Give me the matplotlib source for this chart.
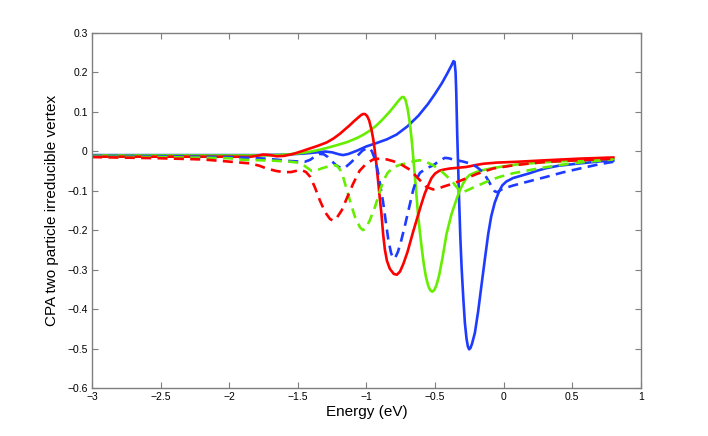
import matplotlib
matplotlib.use("Agg")
import matplotlib.pyplot as plt

# ---- data ----
bs_x = [-3, -2.5, -2.0, -1.8, -1.6, -1.45, -1.36, -1.30, -1.25, -1.20, -1.17, -1.13, -1.07, -1.0, -0.93,
        -0.85, -0.78, -0.70, -0.62, -0.55, -0.50, -0.45, -0.41, -0.38, -0.365, -0.357, -0.350, -0.345,
        -0.338, -0.331, -0.324, -0.315, -0.306, -0.294, -0.282, -0.27, -0.26, -0.251, -0.242, -0.23,
        -0.209, -0.185, -0.16, -0.135, -0.112, -0.09, -0.064, -0.035, -0.01, 0.02, 0.07, 0.13, 0.19,
        0.25, 0.313, 0.4, 0.556, 0.7, 0.8]
bs_y = [-0.010, -0.010, -0.010, -0.010, -0.009, -0.006, -0.003, -0.001, -0.003, -0.008, -0.010, -0.007,
        0.001, 0.012, 0.020, 0.030, 0.042, 0.063, 0.090, 0.120, 0.145, 0.172, 0.197, 0.217, 0.228, 0.226,
        0.200, 0.150, 0.045, -0.040, -0.125, -0.220, -0.294, -0.370, -0.435, -0.475, -0.495, -0.502,
        -0.499, -0.488, -0.460, -0.405, -0.337, -0.270, -0.210, -0.165, -0.130, -0.104, -0.087, -0.077,
        -0.068, -0.062, -0.056, -0.049, -0.043, -0.037, -0.031, -0.026, -0.024]

gs_x = [-3, -2.5, -2.0, -1.8, -1.65, -1.56, -1.48, -1.42, -1.36, -1.29, -1.217, -1.14, -1.07, -1.02,
        -0.975, -0.93, -0.88, -0.83, -0.79, -0.76, -0.74, -0.728, -0.715, -0.70, -0.683, -0.67, -0.655,
        -0.64, -0.625, -0.61, -0.595, -0.58, -0.565, -0.55, -0.535, -0.52, -0.505, -0.49, -0.47, -0.445,
        -0.416, -0.38, -0.343, -0.32, -0.295, -0.27, -0.246, -0.2, -0.149, -0.08, -0.027, 0.094, 0.19,
        0.35, 0.556, 0.8]
gs_y = [-0.011, -0.011, -0.011, -0.011, -0.010, -0.008, -0.005, -0.002, 0.002, 0.008, 0.015, 0.023,
        0.033, 0.042, 0.052, 0.064, 0.081, 0.100, 0.117, 0.130, 0.137, 0.137, 0.130, 0.108, 0.070, 0.030,
        -0.030, -0.090, -0.155, -0.205, -0.250, -0.290, -0.320, -0.340, -0.352, -0.356, -0.352, -0.340,
        -0.315, -0.270, -0.210, -0.160, -0.122, -0.100, -0.082, -0.068, -0.060, -0.053, -0.048, -0.043,
        -0.040, -0.034, -0.031, -0.027, -0.023, -0.019]

rs_x = [-3, -2.5, -2.0, -1.85, -1.80, -1.752, -1.70, -1.655, -1.60, -1.533, -1.47, -1.41, -1.35, -1.29,
        -1.24, -1.193, -1.15, -1.12, -1.09, -1.06, -1.04, -1.025, -1.01, -0.995, -0.98, -0.962, -0.95,
        -0.938, -0.925, -0.914, -0.902, -0.89, -0.878, -0.865, -0.85, -0.829, -0.80, -0.778, -0.755,
        -0.73, -0.70, -0.66, -0.63, -0.60, -0.575, -0.55, -0.525, -0.50, -0.47, -0.44, -0.392, -0.33,
        -0.27, -0.20, -0.149, -0.05, 0.094, 0.313, 0.55, 0.8]
rs_y = [-0.014, -0.014, -0.014, -0.0145, -0.012, -0.0085, -0.010, -0.013, -0.012, -0.007, 0.000, 0.007,
        0.014, 0.022, 0.032, 0.044, 0.057, 0.066, 0.076, 0.085, 0.091, 0.094, 0.094, 0.089, 0.078, 0.053,
        0.030, 0.000, -0.040, -0.078, -0.120, -0.160, -0.210, -0.250, -0.278, -0.298, -0.311, -0.313,
        -0.305, -0.285, -0.255, -0.205, -0.170, -0.135, -0.108, -0.087, -0.068, -0.057, -0.050, -0.047,
        -0.044, -0.042, -0.040, -0.035, -0.032, -0.029, -0.027, -0.023, -0.019, -0.016]

rd_x = [-3, -2.5, -2.2, -2.05, -1.95, -1.85, -1.78, -1.727, -1.66, -1.606, -1.55, -1.50, -1.472, -1.44,
        -1.41, -1.375, -1.339, -1.30, -1.265, -1.242, -1.22, -1.18, -1.14, -1.096, -1.05, -0.999, -0.95,
        -0.902, -0.85, -0.80, -0.75, -0.683, -0.62, -0.561, -0.513, -0.47, -0.44, -0.367, -0.28, -0.197,
        -0.12, -0.076, 0.07, 0.2, 0.313, 0.55, 0.8]
rd_y = [-0.015, -0.018, -0.021, -0.025, -0.028, -0.031, -0.037, -0.044, -0.050, -0.053, -0.053, -0.049,
        -0.048, -0.053, -0.065, -0.092, -0.125, -0.155, -0.172, -0.176, -0.171, -0.150, -0.117, -0.082,
        -0.050, -0.031, -0.021, -0.019, -0.021, -0.026, -0.033, -0.047, -0.070, -0.091, -0.097, -0.094,
        -0.090, -0.082, -0.070, -0.058, -0.049, -0.044, -0.036, -0.031, -0.027, -0.023, -0.019]

gd_x = [-3, -2.5, -2.0, -1.9, -1.68, -1.55, -1.48, -1.44, -1.40, -1.37, -1.33, -1.29, -1.245, -1.217,
        -1.19, -1.17, -1.145, -1.12, -1.085, -1.047, -1.025, -1.005, -0.975, -0.938, -0.905, -0.878,
        -0.845, -0.805, -0.75, -0.707, -0.65, -0.61, -0.56, -0.513, -0.47, -0.44, -0.40, -0.367, -0.34,
        -0.32, -0.295, -0.27, -0.22, -0.173, -0.1, -0.027, 0.07, 0.19, 0.3, 0.434, 0.6, 0.8]
gd_y = [-0.014, -0.015, -0.018, -0.022, -0.024, -0.027, -0.030, -0.040, -0.050, -0.050, -0.044, -0.040,
        -0.036, -0.036, -0.048, -0.065, -0.095, -0.125, -0.165, -0.193, -0.200, -0.196, -0.175, -0.142,
        -0.105, -0.076, -0.055, -0.041, -0.034, -0.031, -0.025, -0.023, -0.028, -0.036, -0.046, -0.055,
        -0.068, -0.080, -0.092, -0.101, -0.104, -0.100, -0.092, -0.085, -0.074, -0.065, -0.056, -0.048,
        -0.041, -0.034, -0.027, -0.021]

bd_x = [-3, -2.5, -2.0, -1.73, -1.557, -1.45, -1.41, -1.37, -1.34, -1.31, -1.28, -1.25, -1.22, -1.18,
        -1.15, -1.12, -1.096, -1.06, -1.03, -1.0, -0.98, -0.96, -0.94, -0.92, -0.90, -0.88, -0.86, -0.84,
        -0.82, -0.805, -0.79, -0.77, -0.745, -0.72, -0.69, -0.66, -0.635, -0.61, -0.56, -0.513, -0.47,
        -0.428, -0.40, -0.37, -0.343, -0.30, -0.246, -0.20, -0.149, -0.11, -0.08, -0.064, -0.045, -0.02,
        -0.003, 0.07, 0.19, 0.313, 0.43, 0.556, 0.7, 0.8]
bd_y = [-0.012, -0.013, -0.015, -0.019, -0.025, -0.027, -0.022, -0.012, -0.007, -0.008, -0.015, -0.026,
        -0.036, -0.044, -0.040, -0.031, -0.023, -0.010, 0.001, 0.007, 0.008, 0.000, -0.018, -0.045,
        -0.085, -0.125, -0.175, -0.225, -0.258, -0.272, -0.270, -0.255, -0.225, -0.190, -0.145, -0.100,
        -0.072, -0.055, -0.043, -0.036, -0.025, -0.017, -0.018, -0.021, -0.023, -0.026, -0.031, -0.039,
        -0.053, -0.075, -0.094, -0.102, -0.104, -0.098, -0.095, -0.087, -0.076, -0.065, -0.054, -0.044,
        -0.033, -0.027]

x_ticks = [-3, -2.5, -2, -1.5, -1, -0.5, 0, 0.5, 1]
x_labels = ["\u22123", "\u22122.5", "\u22122", "\u22121.5", "\u22121", "\u22120.5", "0", "0.5", "1"]
y_ticks = [-0.6, -0.5, -0.4, -0.3, -0.2, -0.1, 0, 0.1, 0.2, 0.3]
y_labels = ["\u22120.6", "\u22120.5", "\u22120.4", "\u22120.3", "\u22120.2", "\u22120.1", "0", "0.1", "0.2", "0.3"]

BLUE = "#1e3cff"
GREEN = "#66ee00"
RED = "#ff0000"

plt.rcParams['font.family'] = ['Liberation Sans', 'DejaVu Sans']

fig = plt.figure(figsize=(7.08, 4.36), dpi=100)
ax = fig.add_axes([0.13, 0.11, 0.775, 0.815])

lw = 1.9
dash = (0, (3.8, 2.4))
ax.plot(bs_x, bs_y, color=BLUE, lw=lw, solid_joinstyle='round')
ax.plot(gs_x, gs_y, color=GREEN, lw=lw, solid_joinstyle='round')
ax.plot(rs_x, rs_y, color=RED, lw=lw, solid_joinstyle='round')
ax.plot(bd_x, bd_y, color=BLUE, lw=lw, linestyle=dash)
ax.plot(gd_x, gd_y, color=GREEN, lw=lw, linestyle=dash)
ax.plot(rd_x, rd_y, color=RED, lw=lw, linestyle=dash)

ax.set_xlim(-3, 1)
ax.set_ylim(-0.6, 0.3)
ax.set_xticks(x_ticks)
ax.set_xticklabels(x_labels)
ax.set_yticks(y_ticks)
ax.set_yticklabels(y_labels)
ax.tick_params(direction='in', length=4, width=0.8, top=True, right=True,
               labelsize=7.5, colors='#7f7f7f', labelcolor='black', pad=3)
for s in ax.spines.values():
    s.set_color('#7f7f7f')
    s.set_linewidth(1.0)

ax.set_xlabel("Energy (eV)", fontsize=11, labelpad=2)
ax.set_ylabel("CPA two particle irreducible vertex", fontsize=11, labelpad=6)

fig.savefig("out.png", dpi=100)
